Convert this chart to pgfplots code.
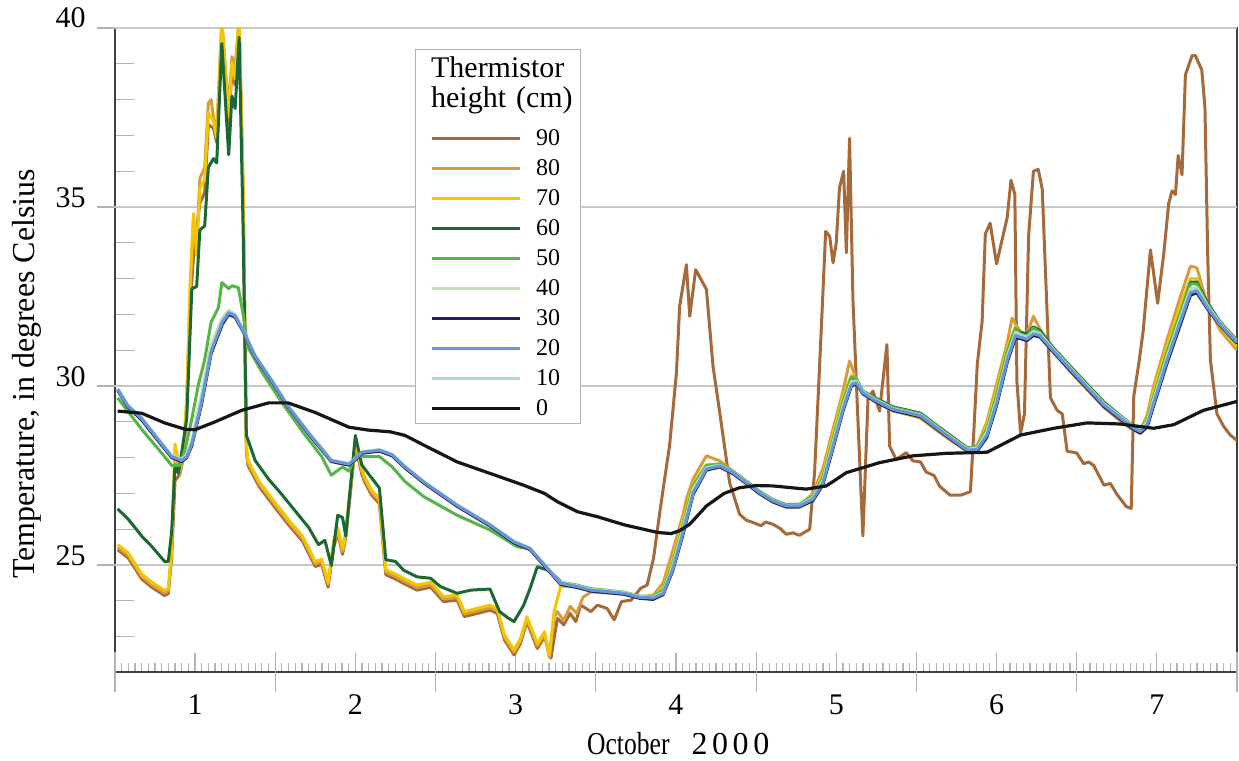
\documentclass[border=0pt]{standalone}
\usepackage{fontspec}
\setmainfont{Liberation Serif}
\usepackage{graphicx}
\usepackage{pgfplots}
\usepackage{pgfplotstable}
\pgfplotsset{compat=1.18}

\definecolor{c90}{RGB}{166,106,58}
\definecolor{c80}{RGB}{214,156,62}
\definecolor{c70}{RGB}{243,199,0}
\definecolor{c60}{RGB}{28,104,52}
\definecolor{c50}{RGB}{86,180,72}
\definecolor{c40}{RGB}{190,226,180}
\definecolor{c30}{RGB}{34,34,90}
\definecolor{c20}{RGB}{102,150,214}
\definecolor{c10}{RGB}{172,215,222}
\definecolor{c0}{RGB}{22,22,22}

% thermistors at 10-40 cm run almost together
\pgfplotstableread{
x     t40   t30   t20   t10
0.517 29.93 29.88 29.91 29.92
0.58  29.47 29.42 29.45 29.46
0.667 29.11 29.05 29.09 29.10
0.75  28.64 28.58 28.62 28.63
0.854 28.06 28.00 28.03 28.04
0.917 27.96 27.89 27.92 27.93
0.948 28.08 28.00 28.03 28.05
0.98  28.48 28.33 28.38 28.40
1.04  29.75 29.48 29.55 29.60
1.10  31.15 30.90 30.96 31.00
1.17  31.90 31.72 31.78 31.82
1.21  32.12 32.00 32.05 32.07
1.25  32.00 31.92 31.96 31.98
1.30  31.55 31.52 31.55 31.56
1.375 30.82 30.81 30.84 30.85
1.48  30.10 30.11 30.14 30.15
1.58  29.40 29.41 29.44 29.45
1.71  28.64 28.65 28.68 28.69
1.85  27.90 27.89 27.92 27.93
1.96  27.80 27.79 27.82 27.83
2.0   27.97 27.94 27.97 27.98
2.04  28.16 28.12 28.15 28.16
2.15  28.22 28.18 28.21 28.22
2.23  28.08 28.05 28.08 28.09
2.31  27.73 27.71 27.74 27.75
2.427 27.31 27.29 27.32 27.33
2.635 26.66 26.64 26.67 26.68
2.84  26.11 26.09 26.12 26.13
2.99  25.64 25.62 25.65 25.66
3.09  25.45 25.43 25.46 25.47
3.18  25.00 24.97 25.00 25.01
3.28  24.50 24.46 24.49 24.50
3.385 24.42 24.37 24.40 24.41
3.47  24.32 24.27 24.30 24.31
3.68  24.23 24.18 24.21 24.22
3.774 24.12 24.07 24.10 24.11
3.857 24.10 24.04 24.08 24.09
3.92  24.24 24.17 24.20 24.22
3.98  24.98 24.84 24.89 24.92
4.044 26.02 25.85 25.91 25.95
4.107 27.12 26.97 27.02 27.05
4.19  27.72 27.65 27.68 27.70
4.273 27.79 27.74 27.77 27.78
4.356 27.59 27.55 27.58 27.59
4.44  27.31 27.27 27.30 27.31
4.522 27.03 26.99 27.02 27.03
4.605 26.80 26.76 26.79 26.80
4.688 26.66 26.62 26.65 26.66
4.77  26.67 26.62 26.65 26.66
4.855 26.88 26.80 26.84 26.86
4.917 27.38 27.25 27.30 27.34
4.98  28.42 28.26 28.32 28.36
5.042 29.45 29.30 29.35 29.39
5.094 30.12 30.00 30.04 30.07
5.125 30.14 30.06 30.09 30.11
5.166 29.84 29.78 29.81 29.83
5.25  29.60 29.55 29.58 29.59
5.353 29.37 29.32 29.35 29.36
5.45  29.27 29.22 29.25 29.26
5.526 29.19 29.14 29.17 29.18
5.63  28.84 28.79 28.82 28.83
5.734 28.50 28.45 28.48 28.49
5.817 28.23 28.18 28.21 28.22
5.88  28.27 28.19 28.23 28.25
5.94  28.72 28.57 28.63 28.67
6.0   29.62 29.45 29.52 29.56
6.066 30.82 30.65 30.72 30.76
6.118 31.50 31.35 31.41 31.44
6.15  31.42 31.32 31.36 31.38
6.19  31.36 31.27 31.31 31.33
6.23  31.52 31.41 31.46 31.48
6.27  31.46 31.37 31.41 31.43
6.357 31.00 30.93 30.97 30.98
6.46  30.50 30.43 30.47 30.48
6.565 30.00 29.93 29.97 29.98
6.67  29.50 29.43 29.47 29.48
6.77  29.15 29.08 29.12 29.13
6.856 28.85 28.78 28.82 28.83
6.897 28.78 28.68 28.73 28.75
6.94  29.00 28.86 28.92 28.95
6.98  29.62 29.45 29.52 29.56
7.064 30.82 30.64 30.72 30.76
7.147 31.92 31.72 31.81 31.85
7.21  32.72 32.54 32.61 32.64
7.25  32.75 32.60 32.66 32.68
7.313 32.26 32.17 32.21 32.23
7.396 31.74 31.68 31.71 31.72
7.5   31.24 31.19 31.22 31.23
}\lowgroup

\begin{document}
\begin{tikzpicture}
\begin{axis}[
    scale only axis, width=561.5pt, height=322.5pt,
    xmin=0.5, xmax=7.5, ymin=22, ymax=40,
    axis line style={draw=black!75, line width=1pt},
    xtick pos=bottom, ytick pos=left,
    xtick={1,...,7},
    minor xtick={0.5,0.541667,...,7.5},
    ytick={22,...,40},
    yticklabels={,,,25,,,,,30,,,,,35,,,,,40},
    tick align=inside, major tick length=9.5pt, minor tick length=4.5pt,
    tick style={draw=black!30, line width=0.6pt},
    extra x ticks={0.5,1.5,...,7.5}, extra x tick labels={},
    extra x tick style={tick align=center, major tick length=20pt},
    extra y ticks={25,30,35,40}, extra y tick labels={},
    extra y tick style={tick align=outside, major tick length=9pt, grid=major},
    major grid style={draw=black!22, line width=0.75pt},
    /pgf/number format/assume math mode=true,
    xticklabel style={font=\fontsize{15}{18}\selectfont, anchor=base, inner sep=0pt, yshift=-21pt},
    yticklabel style={font=\fontsize{15}{18}\selectfont, anchor=base east, inner sep=0pt, xshift=-14.5pt},
    xlabel={\scalebox{0.8}[1]{October}\hspace{11pt}2\kern2.3pt0\kern2.3pt0\kern2.3pt0},
    xlabel style={at={(axis description cs:0.502,-0.1271)}, anchor=base, inner sep=0pt, font=\fontsize{16}{19}\selectfont},
    ylabel={Temperature, in degrees Celsius},
    ylabel style={at={(axis description cs:-0.0721,0.463)}, anchor=base, inner sep=0pt, font=\fontsize{16}{19}\selectfont},
    title={(A)},
    title style={at={(axis description cs:0.5,1.0419)}, anchor=base, inner sep=0pt, font=\fontsize{18}{21}\selectfont},
    legend cell align=left,
    legend image code/.code={\draw[#1, line width=1.5pt] (0pt,0pt) -- (44pt,0pt);},
    legend style={at={(axis description cs:0.26714,0.96744)}, anchor=north west,
        draw=black!30, line width=0.5pt, fill=white,
        inner xsep=7.5pt, inner ysep=0pt, column sep=7.5pt, row sep=0pt,
        font=\fontsize{12}{14}\selectfont,
        nodes={inner sep=0pt, text height=11pt, text depth=4pt, text width=14.5pt}},
]
\coordinate (pSW) at (rel axis cs:0,0);
\coordinate (pNE) at (rel axis cs:1,1);

\addlegendimage{empty legend}
\addlegendentry[text height=13.85pt, text depth=4pt, font=\fontsize{15}{17}\selectfont]{\makebox[0pt][l]{\hspace*{-52.5pt}Thermistor}}
\addlegendimage{empty legend}
\addlegendentry[text height=11.35pt, text depth=7.8pt, font=\fontsize{15}{17}\selectfont]{\makebox[0pt][l]{\hspace*{-52.5pt}height (cm)}}
\addlegendimage{c90}\addlegendentry{90}
\addlegendimage{c80}\addlegendentry{80}
\addlegendimage{c70}\addlegendentry{70}
\addlegendimage{c60}\addlegendentry{60}
\addlegendimage{c50}\addlegendentry{50}
\addlegendimage{c40}\addlegendentry{40}
\addlegendimage{c30}\addlegendentry{30}
\addlegendimage{c20}\addlegendentry{20}
\addlegendimage{c10}\addlegendentry{10}
\addlegendimage{c0}\addlegendentry{0}

% 90 cm
\addplot[c90, line width=1.5pt, line join=round, forget plot] coordinates {
(0.517,25.43)(0.583,25.2)(0.667,24.61)(0.73,24.38)(0.81,24.15)(0.833,24.2)(0.854,25.2)(0.875,27.35)(0.906,27.55)(0.927,28.0)(0.948,29.4)(0.97,32.3)(0.99,33.6)(1.01,34.4)(1.03,35.1)(1.06,35.4)(1.083,37.3)(1.115,37.2)(1.135,36.8)(1.167,39.9)(1.21,37.3)(1.23,38.8)(1.25,38.4)(1.275,40.1)(1.30,35.3)(1.32,28.2)(1.33,27.78)(1.40,27.19)(1.5,26.6)(1.58,26.14)(1.67,25.67)(1.75,24.96)(1.79,25.02)(1.83,24.38)(1.865,25.5)(1.89,25.9)(1.92,25.3)(1.94,25.78)(2.0,28.35)(2.04,27.54)(2.06,27.31)(2.10,26.96)(2.15,26.72)(2.19,24.73)(2.25,24.61)(2.30,24.49)(2.385,24.3)(2.47,24.38)(2.55,23.98)(2.635,24.02)(2.68,23.56)(2.76,23.65)(2.84,23.74)(2.885,23.65)(2.93,22.91)(2.99,22.49)(3.03,22.81)(3.07,23.42)(3.135,22.67)(3.18,23.0)(3.22,22.4)(3.26,23.51)(3.30,23.33)(3.34,23.65)(3.375,23.42)(3.406,23.88)(3.47,23.7)(3.51,23.88)(3.57,23.79)(3.615,23.47)(3.66,23.98)(3.72,24.02)(3.78,24.35)(3.82,24.44)(3.86,25.19)(3.90,26.5)(3.92,27.12)(3.96,28.33)(4.003,30.37)(4.023,32.23)(4.065,33.39)(4.086,31.95)(4.123,33.25)(4.19,32.7)(4.231,30.56)(4.273,29.26)(4.335,27.3)(4.397,26.42)(4.44,26.25)(4.48,26.19)(4.53,26.1)(4.56,26.2)(4.605,26.14)(4.65,26.02)(4.688,25.86)(4.73,25.9)(4.77,25.83)(4.834,26.0)(4.865,27.6)(4.896,30.56)(4.934,34.32)(4.959,34.18)(4.98,33.44)(5.0,34.0)(5.02,35.53)(5.046,36.0)(5.063,33.72)(5.083,36.92)(5.104,32.42)(5.135,29.07)(5.166,25.81)(5.198,29.63)(5.229,29.86)(5.27,29.3)(5.316,31.16)(5.333,28.32)(5.374,27.95)(5.437,28.14)(5.478,27.91)(5.526,27.88)(5.56,27.6)(5.61,27.5)(5.645,27.2)(5.71,26.95)(5.775,26.95)(5.837,27.05)(5.858,28.72)(5.88,30.62)(5.91,31.81)(5.93,34.25)(5.96,34.55)(6.0,33.41)(6.066,34.7)(6.09,35.75)(6.114,35.35)(6.127,30.12)(6.15,28.68)(6.174,29.22)(6.2,34.2)(6.23,36.0)(6.26,36.05)(6.285,35.5)(6.336,29.67)(6.378,29.32)(6.41,29.22)(6.44,28.18)(6.5,28.13)(6.544,27.83)(6.575,27.88)(6.606,27.78)(6.67,27.23)(6.71,27.28)(6.75,26.98)(6.81,26.63)(6.84,26.58)(6.856,29.72)(6.887,30.62)(6.914,31.51)(6.96,33.8)(7.005,32.31)(7.043,33.7)(7.074,35.1)(7.095,35.45)(7.116,35.35)(7.133,36.44)(7.157,35.9)(7.178,38.69)(7.22,39.23)(7.24,39.23)(7.28,38.83)(7.3,37.79)(7.317,33.7)(7.334,30.72)(7.375,29.22)(7.417,28.87)(7.458,28.63)(7.5,28.48)
};
% 80 cm
\addplot[c80, line width=1.5pt, line join=round, forget plot] coordinates {
(0.517,25.5)(0.583,25.27)(0.667,24.68)(0.73,24.45)(0.81,24.22)(0.833,24.27)(0.854,25.35)(0.875,28.2)(0.906,27.55)(0.927,28.05)(0.948,29.5)(0.97,32.7)(0.99,34.6)(1.01,33.9)(1.03,35.8)(1.06,36.1)(1.083,37.9)(1.10,38.0)(1.115,37.5)(1.135,37.1)(1.167,40.2)(1.21,37.7)(1.23,39.2)(1.25,38.9)(1.275,40.3)(1.30,35.4)(1.32,28.3)(1.33,27.85)(1.40,27.26)(1.5,26.67)(1.58,26.21)(1.67,25.74)(1.75,25.03)(1.79,25.09)(1.83,24.45)(1.865,25.6)(1.89,25.97)(1.92,25.38)(1.94,25.85)(2.0,28.43)(2.04,27.61)(2.06,27.38)(2.10,27.03)(2.15,26.79)(2.19,24.8)(2.25,24.68)(2.30,24.56)(2.385,24.37)(2.47,24.45)(2.55,24.05)(2.635,24.09)(2.68,23.63)(2.76,23.72)(2.84,23.81)(2.885,23.72)(2.93,22.98)(2.99,22.56)(3.03,22.88)(3.07,23.49)(3.135,22.74)(3.18,23.07)(3.21,22.42)(3.24,23.55)(3.26,23.7)(3.30,23.45)(3.34,23.85)(3.38,23.65)(3.42,24.1)(3.47,24.25)(3.68,24.2)(3.774,24.12)(3.857,24.15)(3.92,24.5)(3.98,25.4)(4.044,26.4)(4.065,26.84)(4.107,27.4)(4.19,28.05)(4.273,27.91)(4.356,27.62)(4.44,27.3)(4.522,27.0)(4.605,26.77)(4.688,26.63)(4.77,26.66)(4.855,27.0)(4.917,27.7)(4.98,28.8)(5.042,29.85)(5.083,30.7)(5.125,30.2)(5.166,29.8)(5.25,29.55)(5.353,29.3)(5.45,29.2)(5.526,29.1)(5.63,28.75)(5.734,28.42)(5.817,28.2)(5.88,28.35)(5.94,29.0)(6.0,30.05)(6.066,31.2)(6.097,31.9)(6.15,31.5)(6.19,31.45)(6.23,31.95)(6.27,31.6)(6.357,30.95)(6.46,30.4)(6.565,29.9)(6.67,29.4)(6.77,29.03)(6.856,28.75)(6.897,28.75)(6.94,29.2)(6.98,30.0)(7.064,31.3)(7.147,32.5)(7.21,33.35)(7.25,33.3)(7.313,32.3)(7.396,31.55)(7.5,31.0)
};
% 70 cm
\addplot[c70, line width=1.5pt, line join=round, forget plot] coordinates {
(0.517,25.57)(0.583,25.34)(0.667,24.75)(0.73,24.52)(0.81,24.29)(0.833,24.34)(0.854,25.45)(0.875,28.38)(0.906,27.68)(0.927,28.15)(0.948,29.67)(0.97,32.95)(0.99,34.82)(1.01,33.65)(1.03,35.53)(1.06,35.76)(1.083,37.63)(1.115,37.4)(1.135,36.93)(1.167,40.2)(1.21,37.52)(1.23,39.04)(1.25,38.57)(1.275,40.3)(1.30,35.53)(1.32,28.38)(1.33,27.92)(1.40,27.33)(1.5,26.74)(1.58,26.28)(1.67,25.81)(1.75,25.1)(1.79,25.16)(1.83,24.52)(1.865,25.69)(1.89,26.04)(1.92,25.45)(1.94,25.92)(2.0,28.5)(2.04,27.68)(2.06,27.45)(2.10,27.1)(2.15,26.86)(2.19,24.87)(2.25,24.75)(2.30,24.63)(2.385,24.44)(2.47,24.52)(2.55,24.12)(2.635,24.16)(2.68,23.7)(2.76,23.79)(2.84,23.88)(2.885,23.79)(2.93,23.05)(2.99,22.63)(3.03,22.95)(3.07,23.56)(3.135,22.81)(3.18,23.14)(3.21,22.49)(3.24,23.7)(3.28,24.4)(3.385,24.42)(3.47,24.32)(3.68,24.22)(3.774,24.12)(3.857,24.12)(3.92,24.35)(3.98,25.15)(4.044,26.25)(4.107,27.25)(4.19,27.8)(4.273,27.82)(4.356,27.6)(4.44,27.3)(4.522,27.0)(4.605,26.77)(4.688,26.63)(4.77,26.65)(4.855,26.95)(4.917,27.55)(4.98,28.65)(5.042,29.7)(5.094,30.3)(5.125,30.15)(5.166,29.8)(5.25,29.57)(5.353,29.33)(5.45,29.22)(5.526,29.14)(5.63,28.79)(5.734,28.45)(5.817,28.2)(5.88,28.3)(5.94,28.9)(6.0,29.9)(6.066,31.05)(6.118,31.65)(6.15,31.45)(6.19,31.4)(6.23,31.65)(6.27,31.5)(6.357,30.98)(6.46,30.45)(6.565,29.95)(6.67,29.45)(6.77,29.08)(6.856,28.78)(6.897,28.75)(6.94,29.1)(6.98,29.85)(7.064,31.1)(7.147,32.25)(7.21,33.0)(7.25,33.0)(7.313,32.3)(7.396,31.65)(7.5,31.1)
};
% 60 cm
\addplot[c60, line width=1.5pt, line join=round, forget plot] coordinates {
(0.517,26.57)(0.583,26.28)(0.667,25.81)(0.73,25.52)(0.81,25.1)(0.833,25.1)(0.854,25.92)(0.875,27.8)(0.896,27.56)(0.917,28.15)(0.948,29.09)(0.98,32.72)(1.01,32.78)(1.03,34.36)(1.06,34.47)(1.083,36.11)(1.115,36.35)(1.135,36.23)(1.167,39.57)(1.21,36.46)(1.23,38.1)(1.25,37.75)(1.275,39.74)(1.30,34.36)(1.32,28.62)(1.33,28.5)(1.375,27.92)(1.46,27.39)(1.54,26.98)(1.625,26.51)(1.71,26.04)(1.77,25.57)(1.81,25.69)(1.85,24.99)(1.89,26.39)(1.92,26.33)(1.94,25.81)(2.0,28.62)(2.04,27.8)(2.08,27.56)(2.15,27.15)(2.19,25.15)(2.25,25.1)(2.30,24.86)(2.385,24.67)(2.47,24.63)(2.53,24.4)(2.635,24.21)(2.72,24.3)(2.84,24.33)(2.90,23.7)(2.95,23.53)(2.99,23.42)(3.05,23.88)(3.09,24.35)(3.135,24.95)(3.20,24.86)(3.26,24.63)(3.30,24.44)(3.385,24.42)(3.47,24.32)(3.68,24.22)(3.774,24.12)(3.857,24.1)(3.92,24.26)(3.98,25.0)(4.044,26.05)(4.107,27.15)(4.19,27.75)(4.273,27.8)(4.356,27.6)(4.44,27.32)(4.522,27.04)(4.605,26.81)(4.688,26.67)(4.77,26.68)(4.855,26.9)(4.917,27.4)(4.98,28.45)(5.042,29.5)(5.094,30.2)(5.125,30.18)(5.166,29.86)(5.25,29.65)(5.353,29.42)(5.45,29.32)(5.526,29.24)(5.63,28.89)(5.734,28.55)(5.817,28.27)(5.88,28.28)(5.94,28.75)(6.0,29.7)(6.066,30.9)(6.118,31.6)(6.15,31.5)(6.19,31.45)(6.23,31.65)(6.27,31.55)(6.357,31.05)(6.46,30.55)(6.565,30.05)(6.67,29.55)(6.77,29.18)(6.856,28.87)(6.897,28.78)(6.94,29.0)(6.98,29.65)(7.064,30.9)(7.147,32.0)(7.21,32.9)(7.25,32.9)(7.313,32.35)(7.396,31.78)(7.5,31.28)
};
% 50 cm
\addplot[c50, line width=1.5pt, line join=round, forget plot] coordinates {
(0.517,29.67)(0.667,28.79)(0.81,28.03)(0.854,27.78)(0.906,27.78)(0.94,28.27)(0.98,29.09)(1.02,30.02)(1.06,30.73)(1.10,31.78)(1.146,32.19)(1.167,32.89)(1.21,32.72)(1.23,32.8)(1.27,32.75)(1.30,32.0)(1.33,31.08)(1.42,30.37)(1.54,29.55)(1.67,28.73)(1.79,28.03)(1.85,27.51)(1.92,27.74)(1.96,27.62)(2.0,28.03)(2.04,28.03)(2.15,28.03)(2.23,27.74)(2.31,27.33)(2.427,26.91)(2.635,26.39)(2.84,25.98)(3.01,25.51)(3.09,25.46)(3.18,25.0)(3.28,24.52)(3.385,24.44)(3.47,24.34)(3.68,24.24)(3.774,24.13)(3.857,24.12)(3.92,24.3)(3.98,25.05)(4.044,26.1)(4.107,27.2)(4.19,27.78)(4.273,27.82)(4.356,27.62)(4.44,27.34)(4.522,27.06)(4.605,26.83)(4.688,26.69)(4.77,26.7)(4.855,26.92)(4.917,27.45)(4.98,28.5)(5.042,29.55)(5.094,30.25)(5.125,30.2)(5.166,29.86)(5.25,29.63)(5.353,29.4)(5.45,29.3)(5.526,29.22)(5.63,28.87)(5.734,28.53)(5.817,28.26)(5.88,28.3)(5.94,28.8)(6.0,29.75)(6.066,30.95)(6.118,31.62)(6.15,31.45)(6.19,31.4)(6.23,31.62)(6.27,31.5)(6.357,31.02)(6.46,30.52)(6.565,30.02)(6.67,29.52)(6.77,29.17)(6.856,28.87)(6.897,28.8)(6.94,29.05)(6.98,29.7)(7.064,30.95)(7.147,32.05)(7.21,32.85)(7.25,32.85)(7.313,32.3)(7.396,31.76)(7.5,31.27)
};
\addplot[c40, line width=1.5pt, line join=round, forget plot] table[x=x, y=t40] {\lowgroup};
\addplot[c30, line width=1.5pt, line join=round, forget plot] table[x=x, y=t30] {\lowgroup};
\addplot[c10, line width=1.5pt, line join=round, forget plot] table[x=x, y=t10] {\lowgroup};
\addplot[c20, line width=1.5pt, line join=round, forget plot] table[x=x, y=t20] {\lowgroup};
% 0 cm
\addplot[c0, line width=1.6pt, line join=round, forget plot] coordinates {
(0.517,29.3)(0.667,29.24)(0.81,28.97)(0.94,28.79)(1.0,28.78)(1.125,29.0)(1.29,29.32)(1.46,29.53)(1.58,29.53)(1.75,29.26)(1.96,28.85)(2.08,28.77)(2.219,28.72)(2.31,28.62)(2.427,28.35)(2.635,27.88)(2.84,27.56)(3.05,27.23)(3.18,27.0)(3.26,26.77)(3.385,26.49)(3.51,26.35)(3.68,26.12)(3.885,25.91)(3.97,25.88)(4.023,25.96)(4.086,26.14)(4.19,26.65)(4.3,27.0)(4.397,27.16)(4.5,27.22)(4.605,27.21)(4.813,27.12)(4.938,27.21)(5.063,27.58)(5.27,27.86)(5.478,28.05)(5.686,28.12)(5.94,28.15)(6.15,28.63)(6.357,28.82)(6.565,28.97)(6.77,28.94)(6.98,28.82)(7.105,28.92)(7.29,29.32)(7.5,29.57)
};
\end{axis}
\pgfresetboundingbox
\path[use as bounding box] ([xshift=-57.5pt,yshift=-44pt]pSW) rectangle ([xshift=1pt,yshift=14pt]pNE);
\end{tikzpicture}
\end{document}
